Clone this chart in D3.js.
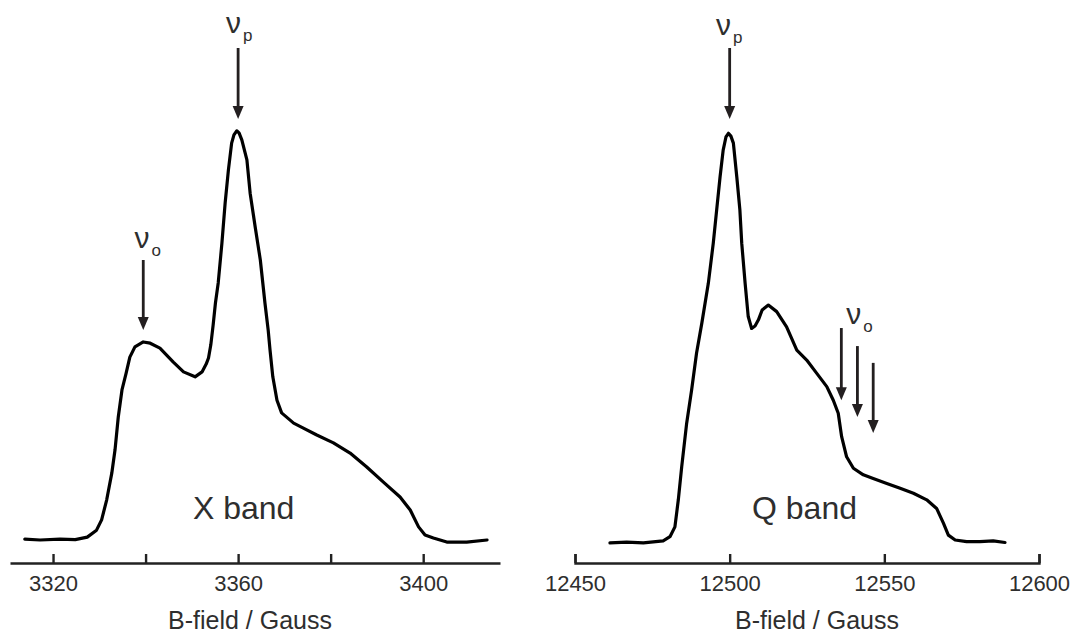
<!DOCTYPE html>
<html>
<head>
<meta charset="utf-8">
<script src="https://cdn.jsdelivr.net/npm/d3@7"></script>
<style>
   body { margin: 0; background: #fff; }
   text { font-family: "Liberation Sans", Arial, sans-serif; fill: #2e2e2e; }
</style>
</head>
<body>
<div class="chart-container"></div>
<script>
// X band spectrum: [field (G), intensity (normalised)]
const xBandField = [3313.9, 3317.2, 3321.5, 3324.8, 3327.4, 3329.4, 3330.5, 3331.6, 3332.7, 3333.4,
   3334.1, 3334.9, 3335.8, 3336.6, 3337.7, 3339.5, 3341.0, 3343.1, 3346.0, 3348.2,
   3350.7, 3352.2, 3353.1, 3353.6, 3354.1, 3354.6, 3355.1, 3355.7, 3356.5, 3357.2,
   3357.9, 3358.6, 3359.1, 3359.7, 3360.2, 3360.8, 3361.9, 3362.6, 3363.7, 3364.8,
   3365.8, 3366.5, 3366.9, 3367.5, 3368.4, 3369.4, 3372.0, 3374.1, 3377.0, 3380.6,
   3384.2, 3387.8, 3391.4, 3395.0, 3397.2, 3399.0, 3400.4, 3402.2, 3405.1, 3409.4, 3413.8];
const xBandSignal = [0.002, 0.000, 0.002, 0.001, 0.007, 0.024, 0.049, 0.098, 0.163, 0.220,
   0.300, 0.366, 0.407, 0.446, 0.471, 0.483, 0.480, 0.468, 0.434, 0.410,
   0.398, 0.410, 0.429, 0.444, 0.476, 0.524, 0.578, 0.627, 0.724, 0.822,
   0.902, 0.968, 0.988, 0.998, 0.993, 0.976, 0.927, 0.846, 0.763, 0.683,
   0.578, 0.512, 0.463, 0.398, 0.341, 0.310, 0.285, 0.273, 0.256, 0.237,
   0.212, 0.178, 0.141, 0.105, 0.073, 0.032, 0.012, 0.005, -0.005, -0.005, 0.000];

// Q band spectrum
const qBandField = [12461.3, 12466.7, 12472.1, 12478.5, 12480.7, 12482.3, 12483.4, 12484.5, 12486.1, 12487.7,
   12489.3, 12491.0, 12493.1, 12494.7, 12495.8, 12496.9, 12497.9, 12498.8, 12499.6, 12500.4,
   12501.2, 12502.3, 12503.3, 12503.9, 12505.0, 12506.0, 12507.1, 12508.2, 12509.3, 12510.5,
   12512.5, 12515.2, 12518.4, 12521.7, 12524.9, 12528.1, 12531.4, 12533.5, 12535.1, 12536.2,
   12537.8, 12540.0, 12543.2, 12546.4, 12550.8, 12555.1, 12559.4, 12563.7, 12566.9, 12569.1,
   12570.7, 12572.9, 12576.6, 12580.9, 12585.2, 12589.0];
const qBandSignal = [-0.007, -0.005, -0.007, -0.002, 0.008, 0.032, 0.098, 0.179, 0.285, 0.366,
   0.456, 0.529, 0.626, 0.724, 0.805, 0.886, 0.951, 0.983, 0.992, 0.985,
   0.968, 0.886, 0.805, 0.724, 0.626, 0.545, 0.516, 0.522, 0.537, 0.561,
   0.573, 0.557, 0.520, 0.463, 0.439, 0.407, 0.374, 0.341, 0.309, 0.252,
   0.203, 0.175, 0.159, 0.150, 0.138, 0.126, 0.114, 0.098, 0.077, 0.041,
   0.012, 0.000, -0.004, -0.004, -0.002, -0.006];

// axis ticks
const xBandTicks = [3320, 3340, 3360, 3380, 3400];
const xBandTickLabels = [3320, 3360, 3400];
const qBandTicks = [12450, 12500, 12550, 12600];
const qBandTickLabels = [12450, 12500, 12550, 12600];

// arrows: field, top and tip in intensity units
const xBandArrows = [
   {field: 3360.0, top: 1.200, tip: 1.027},
   {field: 3339.5, top: 0.683, tip: 0.512}
];
const qBandArrows = [
   {field: 12500.0, top: 1.200, tip: 1.027},
   {field: 12536.1, top: 0.517, tip: 0.341},
   {field: 12541.3, top: 0.473, tip: 0.300},
   {field: 12546.4, top: 0.432, tip: 0.261}
];
// labels: ν with subscript
const xBandLabels = [
   {field: 3357.4, level: 1.237, sub: 'p'},
   {field: 3337.6, level: 0.712, sub: 'o'}
];
const qBandLabels = [
   {field: 12495.6, level: 1.232, sub: 'p'},
   {field: 12537.7, level: 0.527, sub: 'o'}
];

const width = 1073;
const height = 633;
const axisY = 563;

const svg = d3.select('.chart-container')
   .append('svg')
   .attr('width', width)
   .attr('height', height);

const yScale = d3.scaleLinear().domain([0, 1]).range([540, 130]);

function draw_panel(cfg) {
   const x = d3.scaleLinear().domain(cfg.domain).range(cfg.range);
   const g = svg.append('g');

   const data = cfg.field.map((f, i) => [f, cfg.signal[i]]);
   const line = d3.line()
      .x(d => x(d[0]))
      .y(d => yScale(d[1]));

   g.append('path')
      .datum(data)
      .attr('d', line)
      .attr('fill', 'none')
      .attr('stroke', '#000')
      .attr('stroke-width', 3.2)
      .attr('stroke-linejoin', 'round')
      .attr('stroke-linecap', 'round');

   const axis = d3.axisBottom(x)
      .tickValues(cfg.ticks)
      .tickFormat(d => cfg.tickLabels.includes(d) ? d : '')
      .tickSizeInner(-9)
      .tickSizeOuter(cfg.outer)
      .tickPadding(12);

   const axisG = g.append('g')
      .attr('transform', `translate(0, ${axisY})`)
      .call(axis);
   axisG.select('.domain').attr('stroke', '#222').attr('stroke-width', 2.4);
   axisG.selectAll('.tick line').attr('stroke', '#222').attr('stroke-width', 2.4);
   axisG.selectAll('.tick text')
      .attr('fill', '#2e2e2e')
      .style('font-size', '22px')
      .style('font-family', '"Liberation Sans", Arial, sans-serif');

   g.append('text')
      .attr('x', cfg.titleX)
      .attr('y', 629)
      .attr('text-anchor', 'middle')
      .style('font-size', '25px')
      .text('B-field / Gauss');

   g.append('text')
      .attr('x', x(cfg.bandAt))
      .attr('y', 519)
      .attr('text-anchor', 'middle')
      .style('font-size', '32px')
      .text(cfg.band);

   // arrows
   cfg.arrows.forEach(a => {
      const ax = x(a.field);
      const y0 = yScale(a.top);
      const y1 = yScale(a.tip);
      g.append('line')
         .attr('x1', ax).attr('x2', ax)
         .attr('y1', y0).attr('y2', y1 - 10)
         .attr('stroke', '#231f20')
         .attr('stroke-width', 2.8);
      g.append('path')
         .attr('d', `M${ax - 5.5},${y1 - 13}L${ax + 5.5},${y1 - 13}L${ax},${y1}Z`)
         .attr('fill', '#231f20');
   });

   cfg.labels.forEach(l => {
      const t = g.append('text')
         .attr('x', x(l.field))
         .attr('y', yScale(l.level))
         .style('font-size', '30px');
      t.append('tspan').text('ν');
      t.append('tspan')
         .attr('dx', 2)
         .attr('dy', 8)
         .style('font-size', '17px')
         .text(l.sub);
   });
}

draw_panel({
   field: xBandField, signal: xBandSignal,
   domain: [3310.7, 3416.6], range: [10, 500],
   ticks: xBandTicks, tickLabels: xBandTickLabels, outer: 0,
   titleX: 250, band: 'X band', bandAt: 3361.2,
   arrows: xBandArrows, labels: xBandLabels
});

draw_panel({
   field: qBandField, signal: qBandSignal,
   domain: [12450, 12600], range: [575, 1039],
   ticks: qBandTicks, tickLabels: qBandTickLabels, outer: -9,
   titleX: 817, band: 'Q band', bandAt: 12524.2,
   arrows: qBandArrows, labels: qBandLabels
});
</script>
</body>
</html>
